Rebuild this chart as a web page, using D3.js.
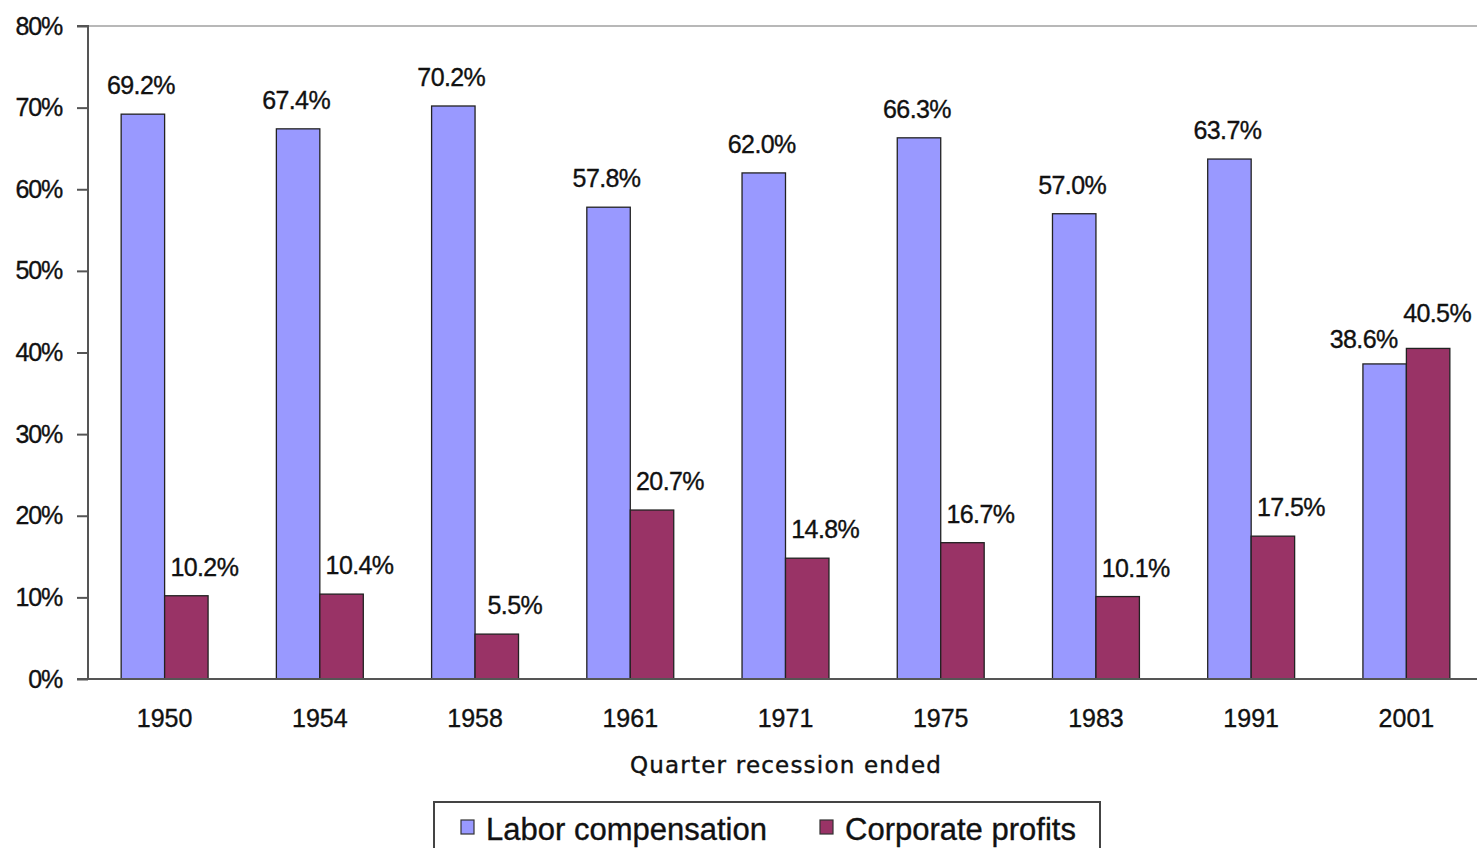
<!DOCTYPE html>
<html>
<head>
<meta charset="utf-8">
<script src="https://cdn.jsdelivr.net/npm/d3@7"></script>
<style>
  body { margin: 0; background: #fff; }
  svg { display: block; }
  .charttext { font-family: "Liberation Sans", Arial, sans-serif; fill: #111; stroke: #111; stroke-width: 0.35px; }
</style>
</head>
<body>
<svg id="chart" width="1477" height="848"></svg>
<script>
// values
var years = ["1950", "1954", "1958", "1961", "1971", "1975", "1983", "1991", "2001"];
var laborComp = [69.2, 67.4, 70.2, 57.8, 62.0, 66.3, 57.0, 63.7, 38.6];
var corpProfits = [10.2, 10.4, 5.5, 20.7, 14.8, 16.7, 10.1, 17.5, 40.5];
var seriesNames = ["Labor compensation", "Corporate profits"];
var yTicks = [0, 10, 20, 30, 40, 50, 60, 70, 80];

var colors = ["#9999ff", "#993366"];

var svg = d3.select("#chart");
var plotLeft = 88, plotRight = 1484, plotTop = 26, plotBottom = 679;

var x0 = d3.scaleBand().domain(years).range([87, plotRight]);
var bw = x0.bandwidth();
var x1 = d3.scaleBand().domain([0, 1]).range([bw * 0.22, bw * 0.78]);
var y = d3.scaleLinear().domain([0, 80]).range([plotBottom, plotTop]);

// top border line at 80%
svg.append("line")
    .attr("x1", plotLeft).attr("x2", 1477)
    .attr("y1", y(80)).attr("y2", y(80))
    .attr("stroke", "#b8b8b8").attr("stroke-width", 2);

var data = years.map(function(yr, i) {
  return {year: yr, vals: [laborComp[i], corpProfits[i]]};
});

var groups = svg.selectAll(".grp")
  .data(data)
  .enter().append("g")
    .attr("class", "grp")
    .attr("transform", function(d) { return "translate(" + x0(d.year) + ",0)"; });

groups.selectAll("rect")
  .data(function(d) { return d.vals.map(function(v, k) { return {k: k, v: v}; }); })
  .enter().append("rect")
    .attr("x", function(d) { return x1(d.k); })
    .attr("width", x1.bandwidth())
    .attr("y", function(d) { return y(d.v); })
    .attr("height", function(d) { return y(0) - y(d.v); })
    .attr("fill", function(d) { return colors[d.k]; })
    .attr("stroke", "#222")
    .attr("stroke-width", 1.3);

// value labels; when the two bars are about the same height the labels are spread apart
groups.each(function(d) {
  var g = d3.select(this);
  var close = Math.abs(d.vals[0] - d.vals[1]) < 5;
  d.vals.forEach(function(v, k) {
    var cx = x1(k) + x1.bandwidth() / 2;
    var dx = k === 0 ? -2 : 18;
    var dy = -20;
    if (close) {
      dx = k === 0 ? -21 : 9;
      dy = k === 0 ? -16 : -26;
    }
    g.append("text")
      .attr("class", "charttext")
      .attr("x", cx + dx)
      .attr("y", y(v) + dy)
      .attr("text-anchor", "middle")
      .attr("font-size", 25)
      .attr("letter-spacing", -0.6)
      .text(d3.format(".1f")(v) + "%");
  });
});

// y axis
var yAxis = d3.axisLeft(y)
  .tickValues(yTicks)
  .tickSize(11)
  .tickPadding(15)
  .tickFormat(function(d) { return d + "%"; });

var ya = svg.append("g")
  .attr("transform", "translate(" + plotLeft + ",0)")
  .call(yAxis);
ya.select(".domain").attr("stroke", "#555").attr("stroke-width", 2).attr("d", "M-11," + y(80) + "H0V" + y(0) + "H-11");
ya.selectAll(".tick line").attr("stroke", "#555").attr("stroke-width", 2);
ya.selectAll(".tick text")
  .attr("class", "charttext")
  .attr("font-size", 25)
  .attr("letter-spacing", -1.2)
  .attr("fill", "#111");

// baseline
svg.append("line")
  .attr("x1", plotLeft - 11).attr("x2", 1477)
  .attr("y1", y(0)).attr("y2", y(0))
  .attr("stroke", "#555").attr("stroke-width", 2);

// x axis labels
var xAxis = d3.axisBottom(x0).tickSize(0).tickPadding(30);
var xa = svg.append("g")
  .attr("transform", "translate(0," + y(0) + ")")
  .call(xAxis);
xa.select(".domain").remove();
xa.selectAll(".tick text")
  .attr("class", "charttext")
  .attr("font-size", 25)
  .attr("fill", "#111");

svg.append("text")
  .attr("x", 786).attr("y", 773)
  .attr("text-anchor", "middle")
  .style("font-family", "'DejaVu Sans', Verdana, sans-serif")
  .attr("font-size", 23)
  .attr("letter-spacing", 1.2)
  .attr("fill", "#111")
  .attr("stroke", "#111")
  .attr("stroke-width", 0.4)
  .text("Quarter recession ended");

// legend
var legend = svg.append("g");
legend.append("rect")
  .attr("x", 434).attr("y", 802)
  .attr("width", 666).attr("height", 60)
  .attr("fill", "#fff").attr("stroke", "#444").attr("stroke-width", 2);

var legX = [461, 820];
seriesNames.forEach(function(name, k) {
  legend.append("rect")
    .attr("x", legX[k]).attr("y", 820)
    .attr("width", 13).attr("height", 14)
    .attr("fill", colors[k]).attr("stroke", "#333").attr("stroke-width", 1.2);
  legend.append("text")
    .attr("class", "charttext")
    .attr("x", legX[k] + 25).attr("y", 840)
    .attr("font-size", 31)
    .attr("letter-spacing", 0)
    .text(name);
});
</script>
</body>
</html>
